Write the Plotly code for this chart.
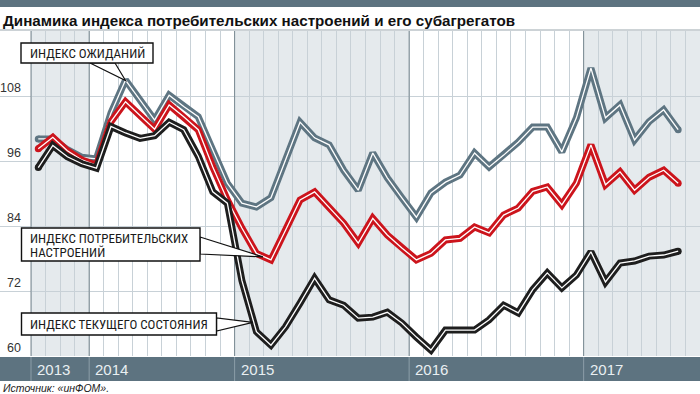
import plotly.graph_objects as go

# ---------------- data ----------------
years = ["2013", "2014", "2015", "2016", "2017"]
periods_per_year = [4, 10, 12, 12, 8]

expectations = [100.2, 100.2, 98.2, 96.8, 96.5, 105.0, 111.1, 107.4, 103.7, 108.3,
                106.2, 104.3, 98.1, 92.0, 88.3, 87.6, 89.3, 96.3, 103.3, 100.4,
                99.1, 94.4, 90.7, 97.6, 93.0, 89.3, 85.7, 90.2, 92.2, 93.5,
                97.6, 95.0, 97.2, 99.6, 102.4, 102.4, 97.8, 104.1, 113.3, 104.1,
                106.5, 100.0, 103.4, 105.6, 101.9]
sentiment = [98.4, 100.5, 98.0, 96.3, 95.3, 103.4, 107.1, 104.6, 102.0, 106.5,
             104.3, 101.9, 95.0, 88.9, 83.7, 79.0, 77.8, 83.3, 88.9, 90.4,
             87.6, 84.6, 80.9, 85.5, 82.4, 80.0, 77.8, 79.0, 81.5, 81.8,
             83.9, 82.8, 86.1, 87.4, 90.5, 91.3, 88.0, 92.0, 99.1, 91.7,
             94.1, 90.7, 93.1, 94.4, 92.0]
current = [94.9, 99.0, 96.9, 95.6, 94.8, 102.5, 101.3, 100.3, 100.8, 103.3,
           101.9, 97.0, 90.4, 88.3, 74.0, 64.5, 62.0, 65.4, 69.8, 74.4,
           70.4, 69.4, 67.0, 67.2, 68.1, 66.1, 63.5, 61.1, 64.8, 64.8,
           64.8, 66.7, 69.4, 68.0, 72.3, 75.4, 72.6, 75.0, 79.3, 73.7,
           77.2, 77.6, 78.5, 78.7, 79.4]
y_ticks = [60, 72, 84, 96, 108]

title = "Динамика индекса потребительских настроений и его субагрегатов"
source = "Источник: «инФОМ»."
label_exp = "ИНДЕКС ОЖИДАНИЙ"
label_sent = ["ИНДЕКС ПОТРЕБИТЕЛЬСКИХ", "НАСТРОЕНИЙ"]
label_cur = "ИНДЕКС ТЕКУЩЕГО СОСТОЯНИЯ"

# ---------------- geometry ----------------
W, H = 700, 394
PLOT_L, PLOT_T, PLOT_B = 31, 31, 356
n_bands = sum(periods_per_year)
band_px = (W - PLOT_L) / n_bands
x_lo = -0.5 - PLOT_L / band_px
x_hi = n_bands - 0.5
PX_PER_UNIT = 5.4
y_lo = 60
y_hi = y_lo + (PLOT_B - PLOT_T) / PX_PER_UNIT

C_SLATE = "#5d7380"
C_GRAY = "#5e7582"
C_RED = "#cc141c"
C_BLACK = "#1e1e1e"
C_SHADE = "#e5eaed"
C_GRID = "#c8d1d7"
C_YEARLINE = "#7a8991"
NARROW = "Liberation Sans Narrow, Arial Narrow, Roboto Condensed, DejaVu Sans Condensed, Roboto"

def px(x):
    return x / W

def py(y):
    return 1 - y / H

def x2px(i):
    return (i - x_lo) * band_px

def y2px(v):
    return PLOT_B - (v - y_lo) * PX_PER_UNIT

x_idx = list(range(len(expectations)))

fig = go.Figure()
for vals, color in [(expectations, C_GRAY), (sentiment, C_RED), (current, C_BLACK)]:
    fig.add_trace(go.Scatter(x=x_idx, y=vals, mode="lines",
                             line=dict(color=color, width=7), hoverinfo="skip"))
    fig.add_trace(go.Scatter(x=[x_idx[0], x_idx[-1]], y=[vals[0], vals[-1]], mode="markers",
                             marker=dict(color=color, size=7), hoverinfo="skip"))
    fig.add_trace(go.Scatter(x=x_idx, y=vals, mode="lines",
                             line=dict(color="white", width=1.3), hoverinfo="skip"))

shapes = []
annotations = []

# top band + separator
shapes.append(dict(type="rect", xref="paper", yref="paper", x0=0, x1=1, y0=py(7), y1=1,
                   fillcolor=C_SLATE, line=dict(width=0), layer="below"))
shapes.append(dict(type="line", xref="paper", yref="paper", x0=0, x1=1, y0=py(30), y1=py(30),
                   line=dict(color="#9aa6ad", width=1)))
# bottom band
shapes.append(dict(type="rect", xref="paper", yref="paper", x0=0, x1=1, y0=py(381), y1=py(357),
                   fillcolor=C_SLATE, line=dict(width=0), layer="below"))

b = -0.5
for k, (yr, n) in enumerate(zip(years, periods_per_year)):
    if k % 2 == 0:
        shapes.append(dict(type="rect", xref="x", yref="y", x0=b, x1=b + n, y0=y_lo, y1=y_hi,
                           fillcolor=C_SHADE, line=dict(width=0), layer="below"))
    shapes.append(dict(type="line", xref="x", yref="y", x0=b, x1=b, y0=y_lo, y1=y_hi,
                       line=dict(color=C_YEARLINE, width=1), layer="between"))
    shapes.append(dict(type="line", xref="x", yref="paper", x0=b, x1=b, y0=py(381), y1=py(357),
                       line=dict(color="#8c9ea8", width=1)))
    annotations.append(dict(text=yr, xref="x", yref="paper", x=b, y=py(369.5), xanchor="left",
                            yanchor="middle", xshift=4, showarrow=False,
                            font=dict(family="Liberation Sans, Arial", size=15, color="#e9eff2")))
    b += n

# y tick labels
for t in y_ticks:
    annotations.append(dict(text=str(t), xref="paper", yref="y", x=px(23), y=t, xanchor="right",
                            yanchor="middle", yshift=8.5, showarrow=False,
                            font=dict(family="Liberation Sans, Arial", size=12.5, color="#333333")))

# title and source
annotations.append(dict(text="<b>" + title + "</b>", xref="paper", yref="paper", x=px(1), y=py(20),
                        xanchor="left", yanchor="middle", showarrow=False,
                        font=dict(family="Liberation Sans, Arial", size=15.2, color="#111111")))
annotations.append(dict(text="<i>" + source + "</i>", xref="paper", yref="paper", x=px(1), y=py(387.5),
                        xanchor="left", yanchor="middle", showarrow=False,
                        font=dict(family="Liberation Sans, Arial", size=10.5, color="#222222")))

# callouts
tip1 = (x2px(6), y2px(expectations[6]) + 0.5)
tip2 = (x2px(16) - 8, y2px(sentiment[16]) - 3)
t3 = 0.76
tip3 = (x2px(14 + t3), y2px(current[14] + t3 * (current[15] - current[14])) + 3)

callouts = [
    dict(box=(21, 43, 153, 63), wedge=[(90, 63), (115, 63), tip1], lines=[(label_exp, 53)]),
    dict(box=(21.5, 228, 200, 261), wedge=[(200, 237), (200, 254), tip2],
         lines=[(label_sent[0], 238), (label_sent[1], 252)]),
    dict(box=(21.5, 313, 216.5, 335), wedge=[(216.5, 318), (216.5, 331), tip3],
         lines=[(label_cur, 324)]),
]
for c in callouts:
    (a, bb, cc) = c["wedge"]
    path = "M {},{} L {},{} L {},{} Z".format(px(a[0]), py(a[1]), px(bb[0]), py(bb[1]),
                                              px(cc[0]), py(cc[1]))
    shapes.append(dict(type="path", xref="paper", yref="paper", path=path, fillcolor="white",
                       line=dict(color="#111111", width=1.2), layer="above"))
for c in callouts:
    x0, y0, x1, y1 = c["box"]
    shapes.append(dict(type="rect", xref="paper", yref="paper", x0=px(x0), x1=px(x1),
                       y0=py(y1), y1=py(y0), fillcolor="white",
                       line=dict(color="#111111", width=1.4), layer="above"))
    for txt, yc in c["lines"]:
        annotations.append(dict(text=txt, xref="paper", yref="paper", x=px(x0 + 6.5), y=py(yc),
                                xanchor="left", yanchor="middle", showarrow=False,
                                font=dict(family=NARROW, size=13, color="#1a1a1a")))

fig.update_layout(
    width=W, height=H, margin=dict(l=0, r=0, t=0, b=0),
    paper_bgcolor="white", plot_bgcolor="white", showlegend=False,
    xaxis=dict(range=[x_lo, x_hi], domain=[0, 1], tickvals=[-0.5 + k for k in range(n_bands + 1)],
               showgrid=True, gridcolor=C_GRID, gridwidth=1, showticklabels=False,
               zeroline=False, showline=False, ticks=""),
    yaxis=dict(range=[y_lo, y_hi], domain=[py(PLOT_B), py(PLOT_T)], tickvals=y_ticks,
               showgrid=True, gridcolor=C_GRID, gridwidth=1, showticklabels=False,
               zeroline=False, showline=False, ticks=""),
    shapes=shapes, annotations=annotations,
)
fig.write_html("out.html", config={"displayModeBar": False},
               post_script="document.body.style.margin='0';document.body.style.padding='0';")
